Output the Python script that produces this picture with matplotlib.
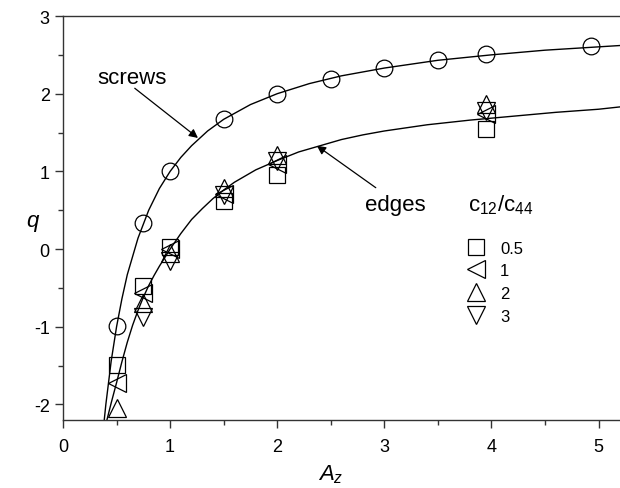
import matplotlib
matplotlib.use('Agg')
import matplotlib.pyplot as plt
from matplotlib.ticker import MultipleLocator

plt.rcParams['font.family'] = ['Liberation Sans', 'DejaVu Sans']
plt.rcParams['mathtext.fontset'] = 'custom'
plt.rcParams['mathtext.rm'] = 'Liberation Sans'
plt.rcParams['mathtext.it'] = 'Liberation Sans:italic'
plt.rcParams['axes.unicode_minus'] = False

# screw dislocations: computed points and fitted curve
screw_A = [0.5, 0.75, 1.0, 1.5, 2.0, 2.5, 3.0, 3.5, 3.95, 4.93]
screw_q = [-0.99, 0.33, 1.0, 1.67, 2.0, 2.19, 2.33, 2.43, 2.51, 2.61]

screw_fit_A = [0.37, 0.40, 0.45, 0.50, 0.55, 0.60, 0.70, 0.80, 0.90, 1.0, 1.1, 1.2,
               1.35, 1.5, 1.75, 2.0, 2.3, 2.6, 3.0, 3.5, 4.0, 4.5, 5.2]
screw_fit_q = [-2.40, -2.00, -1.44, -1.00, -0.64, -0.33, 0.14, 0.50, 0.78, 1.0, 1.18, 1.33,
               1.52, 1.67, 1.86, 2.0, 2.13, 2.23, 2.33, 2.43, 2.50, 2.56, 2.62]

# edge dislocations for several c12/c44 ratios
edge_A = [0.5, 0.75, 1.0, 1.5, 2.0, 3.95]
edge_q = {
    '0.5': [-1.49, -0.47, 0.03, 0.62, 0.95, 1.55],
    '1':   [-1.73, -0.57, 0.0, 0.71, 1.10, 1.74],
    '2':   [-2.05, -0.70, -0.05, 0.79, 1.21, 1.87],
    '3':   [None, -0.88, -0.15, 0.70, 1.13, 1.78],
}
edge_markers = {'0.5': 's', '1': '<', '2': '^', '3': 'v'}
edge_sizes = {'0.5': 11.5, '1': 13, '2': 13.5, '3': 13.5}

edge_fit_A = [0.41, 0.45, 0.50, 0.55, 0.60, 0.65, 0.70, 0.75, 0.80, 0.85, 0.90, 1.0,
              1.1, 1.2, 1.3, 1.4, 1.5, 1.6, 1.8, 2.0, 2.2, 2.4, 2.6, 2.8, 3.0,
              3.4, 3.8, 4.2, 4.6, 5.0, 5.2]
edge_fit_q = [-2.20, -1.98, -1.72, -1.45, -1.20, -0.98, -0.79, -0.62, -0.47, -0.34, -0.22, 0.0,
              0.20, 0.38, 0.52, 0.65, 0.76, 0.86, 1.02, 1.14, 1.25, 1.33, 1.41, 1.47, 1.52,
              1.60, 1.66, 1.71, 1.76, 1.80, 1.83]

fig = plt.figure(figsize=(6.2, 4.89), dpi=100)
ax = fig.add_axes([63 / 620, 68 / 489, 557 / 620, 404 / 489])

ax.plot(screw_fit_A, screw_fit_q, color='k', lw=1.0)
ax.plot(edge_fit_A, edge_fit_q, color='k', lw=1.0)

ax.plot(screw_A, screw_q, ls='none', marker='o', ms=12, mfc='none', mec='k', mew=0.9)
for key, vals in edge_q.items():
    xs = [a for a, v in zip(edge_A, vals) if v is not None]
    ys = [v for v in vals if v is not None]
    ax.plot(xs, ys, ls='none', marker=edge_markers[key], ms=edge_sizes[key],
            mfc='none', mec='k', mew=0.9, label=key)

# curve labels with arrows
arrow = dict(arrowstyle='-|>', color='k', lw=0.9, mutation_scale=13, shrinkA=0, shrinkB=0)
ax.annotate('', xy=(1.26, 1.43), xytext=(0.67, 2.07), arrowprops=arrow)
ax.text(0.64, 2.14, 'screws', fontsize=16, ha='center', va='baseline')
ax.annotate('', xy=(2.37, 1.33), xytext=(2.92, 0.79), arrowprops=arrow)
ax.text(2.82, 0.50, 'edges', fontsize=16, ha='left', va='baseline')

ax.text(3.78, 0.50, 'c$_{12}$/c$_{44}$', fontsize=16, ha='left', va='baseline')
ax.legend(loc='upper left', bbox_to_anchor=(0.7264, 0.444),
          frameon=False, fontsize=12, handlelength=1.0,
          handletextpad=0.94, labelspacing=0.46, borderpad=0, borderaxespad=0)

ax.set_xlim(0, 5.2)
ax.set_ylim(-2.2, 3)
ax.xaxis.set_major_locator(MultipleLocator(1))
ax.xaxis.set_minor_locator(MultipleLocator(0.5))
ax.yaxis.set_major_locator(MultipleLocator(1))
ax.yaxis.set_minor_locator(MultipleLocator(0.5))
ax.tick_params(which='both', direction='out', colors='#333', labelcolor='k', labelsize=13)
ax.tick_params(which='major', length=6, width=1)
ax.tick_params(which='minor', length=3.5, width=1)
ax.tick_params(axis='x', pad=7)

ax.spines['right'].set_visible(False)
for s in ['left', 'bottom', 'top']:
    ax.spines[s].set_color('#333')
    ax.spines[s].set_linewidth(1.0)

ax.set_xlabel('$A_z$', fontsize=16)
ax.set_ylabel('$q$', fontsize=16, rotation=0, va='center')
ax.xaxis.set_label_coords(0.481, -0.104)
ax.yaxis.set_label_coords(-0.054, 0.49)

fig.savefig('out.png', dpi=100)
